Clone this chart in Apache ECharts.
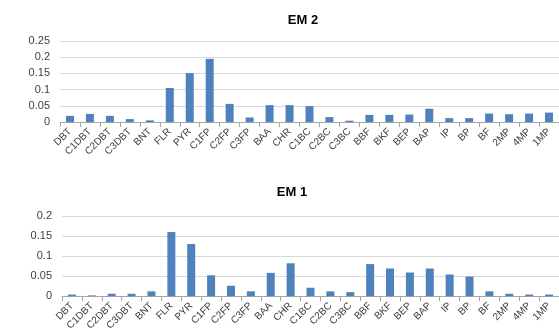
<!DOCTYPE html>
<html><head><meta charset="utf-8">
<script src="https://cdn.jsdelivr.net/npm/echarts@6/dist/echarts.min.js"></script>
<style>html,body{margin:0;padding:0;background:#fff}#c{width:559px;height:333px}</style>
</head><body><div id="c"></div>
<script>
const categories = ['DBT','C1DBT','C2DBT','C3DBT','BNT','FLR','PYR','C1FP','C2FP','C3FP','BAA','CHR','C1BC','C2BC','C3BC','BBF','BKF','BEP','BAP','IP','BP','BF','2MP','4MP','1MP'];
const em2Values = [0.019,0.025,0.019,0.009,0.005,0.105,0.151,0.195,0.056,0.014,0.052,0.052,0.049,0.015,0.004,0.022,0.022,0.023,0.041,0.012,0.012,0.026,0.024,0.026,0.029];
const em1Values = [0.004,0.002,0.006,0.006,0.012,0.160,0.130,0.052,0.026,0.012,0.058,0.082,0.021,0.012,0.010,0.080,0.069,0.059,0.069,0.054,0.049,0.012,0.006,0.004,0.004];
const em2Ticks = [0,0.05,0.1,0.15,0.2,0.25];
const em1Ticks = [0,0.05,0.1,0.15,0.2];
const titles = ['EM 2','EM 1'];

const font = '"Liberation Sans", Arial, sans-serif';
function xAxis(gi){
  return {type:'category', gridIndex:gi, data:categories, boundaryGap:true,
    axisLine:{lineStyle:{color:'#a6a6a6'}},
    axisTick:{show:true, alignWithLabel:false, length:5, lineStyle:{color:'#a6a6a6'}},
    axisLabel:{interval:0, rotate:45, color:'#404040', fontSize:10, fontFamily:font, margin:8}};
}
function yAxis(gi, ticks){
  return {type:'value', gridIndex:gi, min:ticks[0], max:ticks[ticks.length-1], interval:0.05,
    axisLine:{show:false}, axisTick:{show:false},
    splitLine:{lineStyle:{color:'#d9d9d9', width:1}},
    axisLabel:{color:'#404040', fontSize:11, fontFamily:font, margin:10,
      formatter:v=>String(Math.round(v*100)/100)}};
}
const chart = echarts.init(document.getElementById('c'), null, {renderer:'canvas'});
chart.setOption({
  animation:false,
  title:[
    {text:titles[0], left:298, top:9, textAlign:'center', textStyle:{fontSize:13, fontWeight:'bold', color:'#000', fontFamily:font}},
    {text:titles[1], left:287, top:181, textAlign:'center', textStyle:{fontSize:13, fontWeight:'bold', color:'#000', fontFamily:font}}
  ],
  grid:[
    {left:60, top:41, width:500, height:81},
    {left:62, top:216, width:498, height:81}
  ],
  xAxis:[xAxis(0), xAxis(1)],
  yAxis:[yAxis(0, em2Ticks), yAxis(1, em1Ticks)],
  series:[
    {type:'bar', xAxisIndex:0, yAxisIndex:0, data:em2Values, barWidth:8, itemStyle:{color:'#4f81bd'}},
    {type:'bar', xAxisIndex:1, yAxisIndex:1, data:em1Values, barWidth:8, itemStyle:{color:'#4f81bd'}}
  ]
});
</script></body></html>
